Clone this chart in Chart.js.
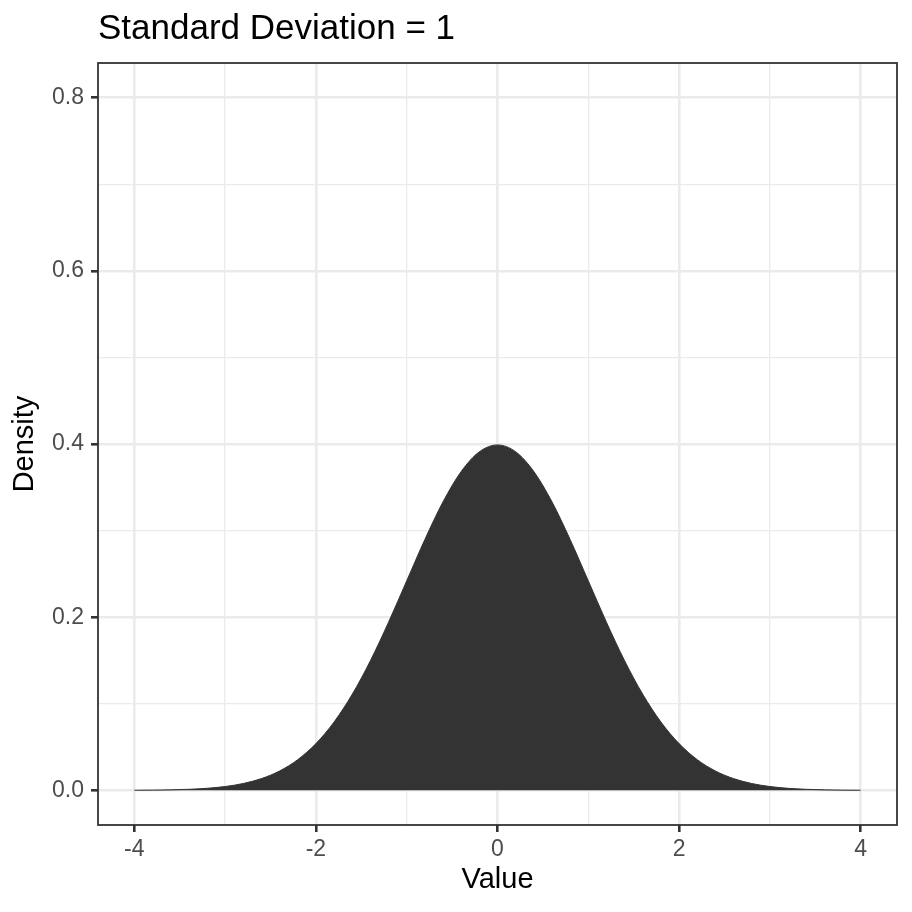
<!DOCTYPE html>
<html>
<head>
<meta charset="utf-8">
<script src="https://cdn.jsdelivr.net/npm/chart.js@4/dist/chart.umd.min.js"></script>
<style>
  html, body { margin: 0; padding: 0; background: #ffffff; }
  #wrap { width: 912px; height: 912px; }
</style>
</head>
<body>
<div id="wrap"><canvas id="c" width="912" height="912"></canvas></div>
<script>
const chartTitle = "Standard Deviation = 1";
const xAxisTitle = "Value";
const yAxisTitle = "Density";

const xValues = [-4.0, -3.8, -3.6, -3.4, -3.2, -3.0, -2.8, -2.6, -2.4, -2.2, -2.0,
                 -1.8, -1.6, -1.4, -1.2, -1.0, -0.8, -0.6, -0.4, -0.2, 0.0,
                 0.2, 0.4, 0.6, 0.8, 1.0, 1.2, 1.4, 1.6, 1.8, 2.0,
                 2.2, 2.4, 2.6, 2.8, 3.0, 3.2, 3.4, 3.6, 3.8, 4.0];
const densityValues = [0.00013, 0.00029, 0.00061, 0.00123, 0.00238, 0.00443, 0.00792, 0.01358, 0.02239, 0.03547, 0.05399,
                       0.07895, 0.11092, 0.14973, 0.19419, 0.24197, 0.28969, 0.33322, 0.36827, 0.39104, 0.39894,
                       0.39104, 0.36827, 0.33322, 0.28969, 0.24197, 0.19419, 0.14973, 0.11092, 0.07895, 0.05399,
                       0.03547, 0.02239, 0.01358, 0.00792, 0.00443, 0.00238, 0.00123, 0.00061, 0.00029, 0.00013];

const xTickValues = [-4, -3, -2, -1, 0, 1, 2, 3, 4];      // majors at even values, minors between
const xMajorLabels = ["-4", "-2", "0", "2", "4"];
const yTickValues = [0, 0.1, 0.2, 0.3, 0.4, 0.5, 0.6, 0.7, 0.8];
const yMajorLabels = ["0.0", "0.2", "0.4", "0.6", "0.8"];
const xLimits = [-4.4, 4.4];
const yLimits = [-0.04, 0.84];

const points = xValues.map((x, i) => ({ x: x, y: densityValues[i] }));

const GRID = '#ebebeb';
const DARK = '#333333';
const FONT = "'Liberation Sans', Arial, Helvetica, sans-serif";

function isMajorX(v) { return Math.round(v) % 2 === 0; }
function isMajorY(v) { return Math.round(v * 10) % 2 === 0; }

const panelBorder = {
  id: 'panelBorder',
  afterDraw(chart) {
    const a = chart.chartArea;
    const ctx = chart.ctx;
    ctx.save();
    ctx.strokeStyle = DARK;
    ctx.lineWidth = 1.8;
    ctx.strokeRect(a.left, a.top, a.right - a.left, a.bottom - a.top);
    ctx.restore();
  }
};

new Chart(document.getElementById('c'), {
  type: 'line',
  data: {
    datasets: [{
      data: points,
      backgroundColor: DARK,
      borderColor: DARK,
      borderWidth: 1,
      fill: 'origin',
      pointRadius: 0,
      cubicInterpolationMode: 'monotone'
    }]
  },
  options: {
    responsive: false,
    animation: false,
    devicePixelRatio: 1,
    layout: { padding: { top: 0, right: 15, bottom: 0, left: 0 } },
    plugins: {
      legend: { display: false },
      tooltip: { enabled: false },
      title: {
        display: true,
        text: chartTitle,
        align: 'start',
        fullSize: false,
        color: '#000000',
        font: { family: FONT, size: 35, weight: 'normal', lineHeight: 1.2 },
        padding: { top: 8, bottom: 13 }
      }
    },
    scales: {
      x: {
        type: 'linear',
        min: xLimits[0],
        max: xLimits[1],
        afterBuildTicks(scale) { scale.ticks = xTickValues.map(v => ({ value: v })); },
        afterFit(scale) { scale.height = 87; },
        grid: {
          color: GRID,
          lineWidth: ctx => ctx.tick && isMajorX(ctx.tick.value) ? 2.6 : 1.3,
          tickColor: ctx => ctx.tick && isMajorX(ctx.tick.value) ? DARK : 'rgba(0,0,0,0)',
          tickLength: 7,
          tickWidth: 2.6,
          drawTicks: true
        },
        border: { display: false },
        ticks: {
          autoSkip: false,
          maxRotation: 0,
          padding: 4,
          color: '#4d4d4d',
          font: { family: FONT, size: 23 },
          callback: (v) => {
            const i = xTickValues.indexOf(v);
            return isMajorX(v) ? xMajorLabels[Math.round(i / 2)] : '';
          }
        },
        title: {
          display: true,
          text: xAxisTitle,
          color: '#000000',
          font: { family: FONT, size: 29, lineHeight: 1.2 },
          padding: { top: 0, bottom: 15 }
        }
      },
      y: {
        type: 'linear',
        min: yLimits[0],
        max: yLimits[1],
        afterBuildTicks(scale) { scale.ticks = yTickValues.map(v => ({ value: v })); },
        afterFit(scale) { scale.width = 98; },
        grid: {
          color: GRID,
          lineWidth: ctx => ctx.tick && isMajorY(ctx.tick.value) ? 2.6 : 1.3,
          tickColor: ctx => ctx.tick && isMajorY(ctx.tick.value) ? DARK : 'rgba(0,0,0,0)',
          tickLength: 7,
          tickWidth: 2.6,
          drawTicks: true
        },
        border: { display: false },
        ticks: {
          autoSkip: false,
          padding: 7,
          color: '#4d4d4d',
          font: { family: FONT, size: 23 },
          callback: (v) => {
            const i = yTickValues.findIndex(t => Math.abs(t - v) < 1e-9);
            return isMajorY(v) ? yMajorLabels[Math.round(i / 2)] : '';
          }
        },
        title: {
          display: true,
          text: yAxisTitle,
          color: '#000000',
          font: { family: FONT, size: 29, lineHeight: 1.2 },
          padding: { top: 8, bottom: 0 }
        }
      }
    }
  },
  plugins: [panelBorder]
});
</script>
</body>
</html>
